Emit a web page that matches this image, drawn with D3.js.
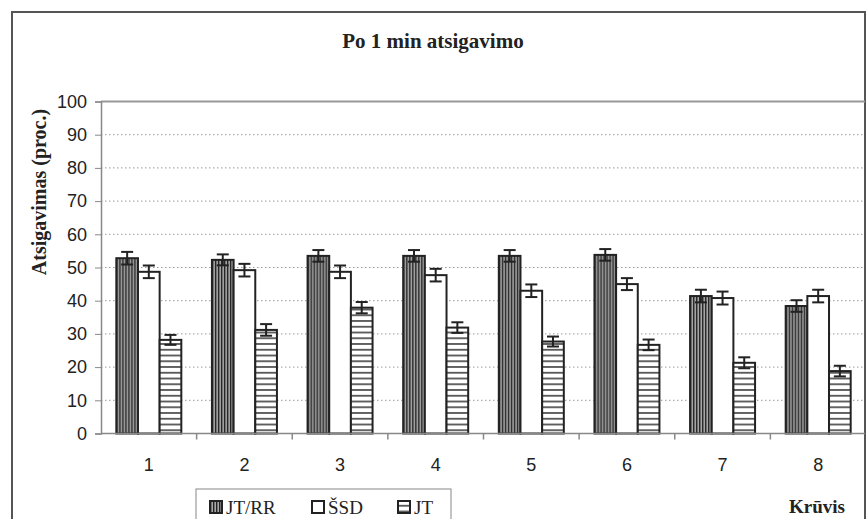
<!DOCTYPE html>
<html>
<meta charset="utf-8">
<title>Po 1 min atsigavimo</title>
<script src="https://d3js.org/d3.v7.min.js"></script>
<style>
  body { margin: 0; background: #fff; }
  svg { display: block; }
</style>
<body>
<svg id="chart" width="866" height="519"></svg>
<script>
// load levels (x categories) and the three series
var loads = ["1", "2", "3", "4", "5", "6", "7", "8"];
var seriesNames = ["JT/RR", "ŠSD", "JT"];
var jtrr    = [52.8, 52.3, 53.5, 53.5, 53.5, 53.8, 41.4, 38.4];
var jtrrErr = [1.9, 1.65, 1.75, 1.75, 1.75, 1.75, 1.9, 1.75];
var ssd     = [48.7, 49.2, 48.7, 47.7, 43.0, 45.0, 40.8, 41.4];
var ssdErr  = [1.9, 1.9, 1.9, 1.9, 1.9, 1.8, 1.95, 1.9];
var jt      = [28.2, 31.2, 37.9, 31.9, 27.7, 26.7, 21.3, 18.8];
var jtErr   = [1.5, 1.75, 1.7, 1.6, 1.5, 1.6, 1.65, 1.6];
var yTicks  = [0, 10, 20, 30, 40, 50, 60, 70, 80, 90, 100];

var values = [jtrr, ssd, jt];
var errors = [jtrrErr, ssdErr, jtErr];
var fills = ["url(#vstripe)", "#fff", "url(#hstripe)"];

var svg = d3.select("#chart");

// patterns
var defs = svg.append("defs");
var vp = defs.append("pattern").attr("id", "vstripe")
  .attr("patternUnits", "userSpaceOnUse").attr("width", 3).attr("height", 10);
vp.append("rect").attr("width", 3).attr("height", 10).attr("fill", "#a8a8a8");
vp.append("rect").attr("width", 1.4).attr("height", 10).attr("fill", "#222");

var hp = defs.append("pattern").attr("id", "hstripe")
  .attr("patternUnits", "userSpaceOnUse").attr("width", 10).attr("height", 5.75);
hp.append("rect").attr("width", 10).attr("height", 5.75).attr("fill", "#fff");
hp.append("rect").attr("y", 4).attr("width", 10).attr("height", 1.5).attr("fill", "#333");

// outer frame
svg.append("rect").attr("x", 12).attr("y", 12).attr("width", 853).attr("height", 530)
  .attr("fill", "none").attr("stroke", "#555").attr("stroke-width", 2);

var x0 = d3.scaleBand().domain(loads).range([101, 866]);
var groupW = 65;
var x1 = d3.scaleBand().domain(d3.range(3)).range([0, groupW]);
var y = d3.scaleLinear().domain([0, 100]).range([433.5, 101.5]);

// gridlines
svg.append("g").selectAll("line").data(yTicks.filter(function(d){ return d > 0 && d < 100; }))
  .enter().append("line")
  .attr("x1", 101).attr("x2", 865)
  .attr("y1", function(d){ return y(d); }).attr("y2", function(d){ return y(d); })
  .attr("stroke", "#999").attr("stroke-width", 1).attr("stroke-dasharray", "1.5,2.5");

// plot area top border
svg.append("line").attr("x1", 101).attr("x2", 865).attr("y1", y(100)).attr("y2", y(100))
  .attr("stroke", "#999").attr("stroke-width", 2);

// y axis
var yAxis = svg.append("g").attr("transform", "translate(101,0)")
  .call(d3.axisLeft(y).tickValues(yTicks).tickSize(6).tickPadding(8));
yAxis.select(".domain").attr("stroke", "#888").attr("stroke-width", 1.5);
yAxis.selectAll(".tick line").attr("stroke", "#888");
yAxis.selectAll("text").attr("font-family", "Liberation Sans, Arial, sans-serif")
  .attr("font-size", 18).attr("fill", "#222");

// x axis
var xAxis = svg.append("g").attr("transform", "translate(0," + y(0) + ")")
  .call(d3.axisBottom(x0).tickSize(0).tickPadding(25));
xAxis.select(".domain").remove();
xAxis.selectAll("text").attr("font-family", "Liberation Sans, Arial, sans-serif")
  .attr("font-size", 18).attr("fill", "#222");
svg.append("g").selectAll("line").data(loads.slice(1)).enter().append("line")
  .attr("x1", function(d){ return x0(d); }).attr("x2", function(d){ return x0(d); })
  .attr("y1", y(0)).attr("y2", y(0) + 6).attr("stroke", "#888").attr("stroke-width", 1.5);

// bars
var groups = svg.append("g").selectAll("g").data(loads).enter().append("g")
  .attr("transform", function(d){ return "translate(" + (x0(d) + (x0.bandwidth() - groupW) / 2) + ",0)"; });

groups.each(function(d, i) {
  var g = d3.select(this);
  seriesNames.forEach(function(s, k) {
    var v = values[k][i];
    g.append("rect")
      .attr("x", x1(k)).attr("width", x1.bandwidth())
      .attr("y", y(v)).attr("height", y(0) - y(v))
      .attr("fill", fills[k]).attr("stroke", "#222").attr("stroke-width", 2);
  });
  seriesNames.forEach(function(s, k) {
    var v = values[k][i], e = errors[k][i];
    var cx = x1(k) + x1.bandwidth() / 2;
    g.append("line").attr("x1", cx).attr("x2", cx).attr("y1", y(v + e)).attr("y2", y(v - e))
      .attr("stroke", "#222").attr("stroke-width", 2);
    [v + e, v - e].forEach(function(t) {
      g.append("line").attr("x1", cx - 6).attr("x2", cx + 6).attr("y1", y(t)).attr("y2", y(t))
        .attr("stroke", "#222").attr("stroke-width", 2);
    });
  });
});

// x axis line drawn over bar bottoms
svg.append("line").attr("x1", 101).attr("x2", 865).attr("y1", y(0)).attr("y2", y(0))
  .attr("stroke", "#888").attr("stroke-width", 1.5);

// titles
svg.append("text").attr("x", 433).attr("y", 48).attr("text-anchor", "middle")
  .attr("font-family", "Liberation Serif, Times New Roman, serif").attr("font-weight", "bold")
  .attr("font-size", 21).attr("fill", "#222").text("Po 1 min atsigavimo");

svg.append("text").attr("transform", "translate(46,192) rotate(-90)").attr("text-anchor", "middle")
  .attr("font-family", "Liberation Serif, Times New Roman, serif").attr("font-weight", "bold")
  .attr("font-size", 20).attr("fill", "#222").text("Atsigavimas (proc.)");

svg.append("text").attr("x", 845).attr("y", 513).attr("text-anchor", "end")
  .attr("font-family", "Liberation Serif, Times New Roman, serif").attr("font-weight", "bold")
  .attr("font-size", 19).attr("fill", "#222").text("Krūvis");

// legend
svg.append("rect").attr("x", 196).attr("y", 489).attr("width", 255).attr("height", 50)
  .attr("fill", "#fff").attr("stroke", "#888").attr("stroke-width", 1);
var legX = [210, 312, 398];
var leg = svg.append("g").selectAll("g").data(seriesNames).enter().append("g")
  .attr("transform", function(d, k){ return "translate(" + legX[k] + ",501)"; });
leg.append("rect").attr("width", 12).attr("height", 12)
  .attr("fill", function(d, k){ return fills[k]; }).attr("stroke", "#222").attr("stroke-width", 2);
leg.append("text").attr("x", 16).attr("y", 13)
  .attr("font-family", "Liberation Serif, Times New Roman, serif")
  .attr("font-size", 19).attr("fill", "#222").text(function(d){ return d; });
</script>
</body>
</html>
